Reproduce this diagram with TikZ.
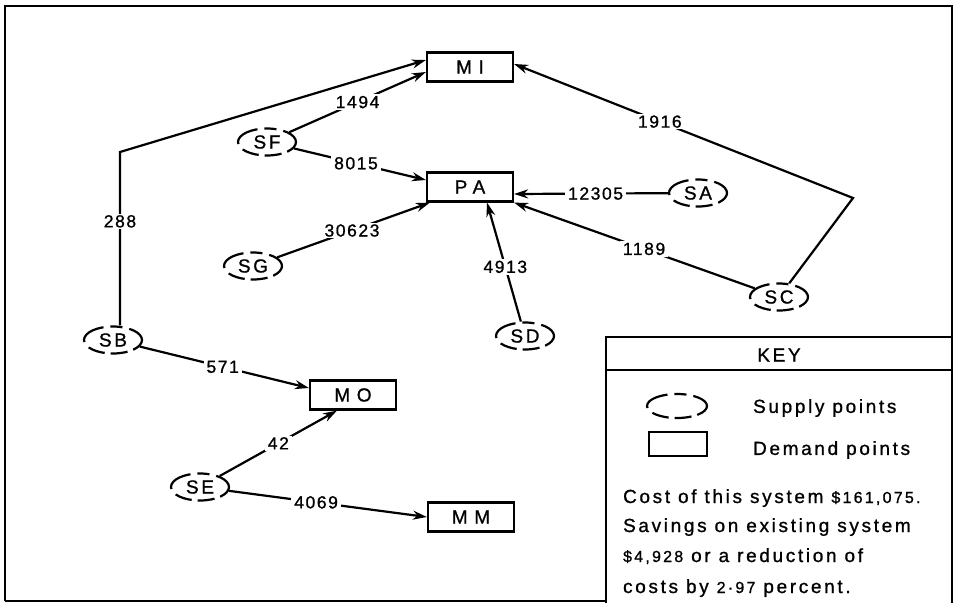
\documentclass[tikz,border=0pt]{standalone}
\usepackage{fontspec}
\setmainfont{Liberation Sans}
\newfontfamily\keyfont[LetterSpace=14,FakeBold=1]{Liberation Sans}
\newfontfamily\numfont[LetterSpace=9,FakeBold=1]{Liberation Sans}
\newfontfamily\widefont[LetterSpace=35,FakeBold=1]{Liberation Sans}
\usetikzlibrary{arrows.meta,shapes.geometric}
\begin{document}
\begin{tikzpicture}[x=1pt,y=-1pt,line width=2.2pt,
  demand/.style={draw,rectangle,minimum width=86pt,minimum height=29pt,inner sep=0pt,
    font=\widefont\fontsize{19}{19}\selectfont},
  supply/.style={draw,ellipse,dash pattern=on 18pt off 7pt on 12pt off 7pt on 27pt off 7pt on 17pt off 6pt on 17pt off 6pt,
    minimum width=58pt,minimum height=27pt,inner sep=0pt,
    font=\keyfont\fontsize{19}{19}\selectfont},
  flow/.style={-{Stealth[length=14pt,width=9pt]}},
  lbl/.style={fill=white,inner xsep=3pt,inner ysep=1.5pt,font=\numfont\fontsize{17.5}{17.5}\selectfont},
  keytext/.style={anchor=base west,inner sep=0pt,font=\keyfont\fontsize{19}{19}\selectfont},
  frame/.style={line width=2.2pt}
]
\useasboundingbox (0,0) rectangle (954,603);
% frame
\draw[frame] (5,601) -- (5,6) -- (952,6) -- (952,603);
\draw[frame] (5,601) -- (606,601);
% key box
\draw[frame] (606,603) -- (606,337) -- (952,337);
\draw[frame] (606,370) -- (952,370);
\node[font=\keyfont\fontsize{19}{19}\selectfont] (key) at (779,355) {KEY};
\node[supply,minimum width=60pt,minimum height=24pt] (keysup) at (677,406) {};
\node[keytext,anchor=west] (supt) at (752,408) {Supply points};
\node[draw,rectangle,minimum width=58pt,minimum height=24pt,inner sep=0pt] (keydem) at (678,444) {};
\node[keytext,anchor=west] (demt) at (752,450) {Demand points};
\node[keytext] (t1) at (622,503) {Cost of this system {\fontsize{16}{16}\selectfont\$161,075.}};
\node[keytext] (t2) at (622,532) {Savings on existing system};
\node[keytext] (t3) at (622,562) {{\fontsize{16}{16}\selectfont\$4,928} or a reduction of};
\node[keytext] (t4) at (622,593) {costs by {\fontsize{16}{16}\selectfont 2·97} percent.};
% demand points
\node[demand] (MI) at (470,67) {MI};
\node[demand] (PA) at (470,187) {PA};
\node[demand] (MO) at (353,395) {MO};
\node[demand] (MM) at (471,517) {MM};
% supply points
\node[supply] (SF) at (267,142) {SF};
\node[supply] (SG) at (253,266) {SG};
\node[supply] (SA) at (698,193) {SA};
\node[supply] (SC) at (779,297) {SC};
\node[supply] (SD) at (525,336) {SD};
\node[supply] (SB) at (113,340) {SB};
\node[supply] (SE) at (200,487) {SE};
\coordinate (b1) at (120,152);
\coordinate (b2) at (853,198);
% flows
\draw[flow] (b1 |- SB.north) -- node[lbl,pos=.6]{288} (b1) -- ([yshift=7pt]MI.west);
\draw[flow] (SF) -- node[lbl,pos=.5]{1494} ([yshift=-5pt]MI.west);
\draw[flow] (SF) -- node[lbl,pos=.47]{8015} ([yshift=7pt]PA.west);
\draw[flow] (SG) -- node[lbl,pos=.49]{30623} ([xshift=4pt]PA.south west);
\draw[flow] (SA) -- node[lbl,pos=.47]{12305} ([yshift=-7pt]PA.east);
\draw[flow] (SC) -- node[lbl,pos=.46]{1189} (PA.south east);
\draw[flow] (SC) -- (b2) -- node[lbl,pos=.57]{1916} ([yshift=3pt]MI.east);
\draw[flow] (SD) -- node[lbl,pos=.46]{4913} ([xshift=17pt]PA.south);
\draw[flow] (SB) -- node[lbl,pos=.49]{571} ([yshift=7pt]MO.west);
\draw[flow] (SE) -- node[lbl,pos=.5]{42} ([xshift=-16pt]MO.south);
\draw[flow] (SE) -- node[lbl,pos=.44]{4069} (MM.west);
\end{tikzpicture}
\end{document}
